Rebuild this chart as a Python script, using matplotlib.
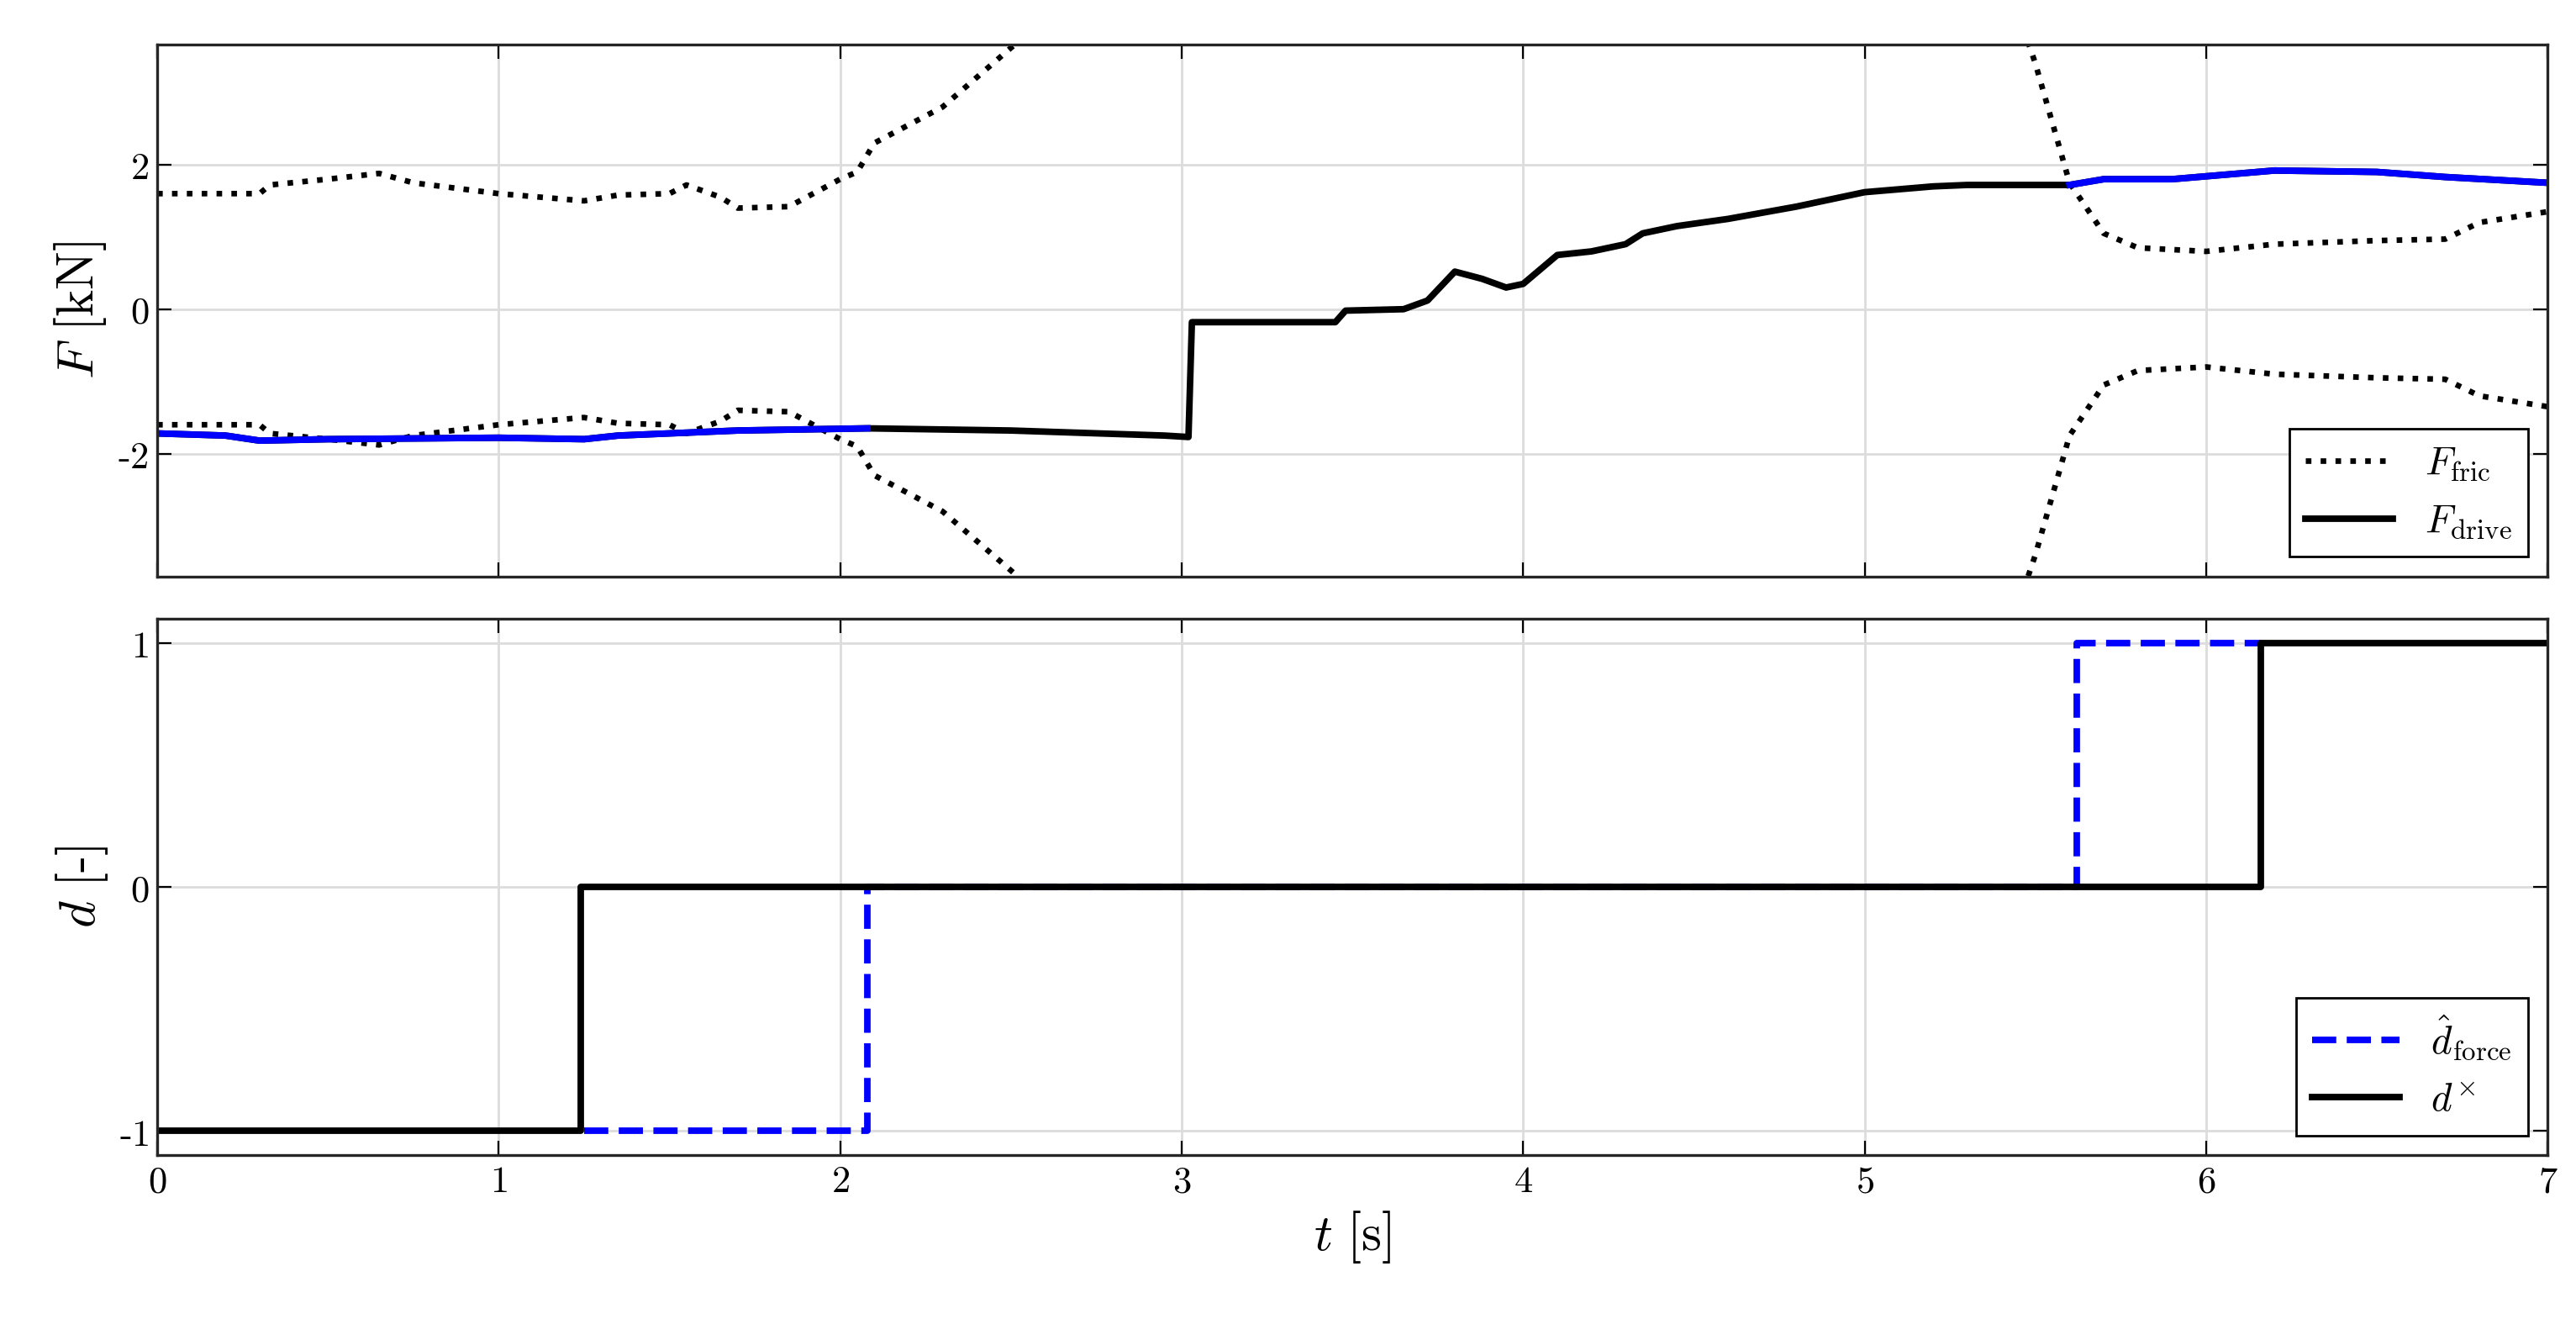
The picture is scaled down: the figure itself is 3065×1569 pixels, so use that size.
import matplotlib
matplotlib.use("Agg")
import matplotlib.pyplot as plt
import numpy as np

plt.rcParams['mathtext.fontset'] = 'cm'
plt.rcParams['font.family'] = 'serif'
plt.rcParams['font.serif'] = ['DejaVu Serif']

# friction bound (upper branch; lower branch is its mirror)
t_fric = [0, 0.3, 0.33, 0.5, 0.65, 0.75, 1.0, 1.25, 1.35, 1.5, 1.55, 1.65, 1.7, 1.85, 2.0, 2.05, 2.1, 2.3, 2.52, 2.8, 3.2, 4.0, 5.0, 5.35, 5.5, 5.6, 5.7, 5.8, 6.0, 6.2, 6.5, 6.7, 6.8, 7.0]
f_fric = [1.6, 1.6, 1.72, 1.8, 1.88, 1.75, 1.6, 1.5, 1.58, 1.6, 1.72, 1.55, 1.4, 1.42, 1.8, 1.9, 2.3, 2.8, 3.7, 5.0, 6.5, 8.0, 7.0, 5.5, 3.4, 1.75, 1.05, 0.85, 0.8, 0.9, 0.95, 0.97, 1.2, 1.35]

# drive force
t_drive = [0, 0.2, 0.3, 0.5, 1.0, 1.25, 1.35, 1.6, 1.7, 2.08, 2.5, 2.95, 3.02, 3.03, 3.45, 3.48, 3.65, 3.72, 3.8, 3.88, 3.95, 4.0, 4.05, 4.1, 4.2, 4.3, 4.35, 4.45, 4.6, 4.8, 5.0, 5.2, 5.3, 5.5, 5.6, 5.7, 5.9, 6.2, 6.5, 6.7, 7.0]
f_drive = [-1.72, -1.75, -1.82, -1.8, -1.78, -1.8, -1.75, -1.7, -1.68, -1.65, -1.68, -1.75, -1.77, -0.18, -0.18, -0.02, 0.0, 0.12, 0.52, 0.42, 0.3, 0.35, 0.55, 0.75, 0.8, 0.9, 1.05, 1.15, 1.25, 1.42, 1.62, 1.7, 1.72, 1.72, 1.72, 1.8, 1.8, 1.92, 1.9, 1.83, 1.75]
blue_segments = [(0, 2.08), (5.6, 7.0)]

# direction estimates
t_dhat = [1.25, 2.08, 2.08, 5.62, 5.62, 6.16]
d_hat = [-1, -1, 0, 0, 1, 1]
t_d = [0, 1.24, 1.24, 6.16, 6.16, 7.0]
d_x = [-1, -1, 0, 0, 1, 1]

xticks = [0, 1, 2, 3, 4, 5, 6, 7]
yticks_top = [-2, 0, 2]
yticks_bot = [-1, 0, 1]

fig = plt.figure(figsize=(15.325, 7.845), dpi=200)
ax1 = fig.add_axes([0.061, 0.563, 0.928, 0.403])
ax2 = fig.add_axes([0.061, 0.124, 0.928, 0.407])

tf = np.array(t_fric); ff = np.array(f_fric)
ax1.plot(tf, ff, ':', color='k', lw=2.4, label=r'$F_{\rm fric}$')
ax1.plot(tf, -ff, ':', color='k', lw=2.4)
td = np.array(t_drive); fd = np.array(f_drive)
ax1.plot(td, fd, '-', color='k', lw=2.8, label=r'$F_{\rm drive}$')
for a, b in blue_segments:
    m = (td >= a) & (td <= b)
    ax1.plot(td[m], fd[m], '-', color='#0000ff', lw=2.8)
ax1.set_ylim(-3.7, 3.66)
ax1.set_yticks(yticks_top)
ax1.set_yticklabels([f'${v}$'.replace('-', r'\text{-}') for v in yticks_top])
ax1.set_ylabel(r'$F\ [\mathrm{kN}]$', fontsize=22)
ax1.legend(loc='lower right', fontsize=17, fancybox=False, edgecolor='k', framealpha=1, handlelength=2.2)

ax2.plot(t_dhat, d_hat, '--', color='#0000ff', lw=2.8, label=r'$\hat{d}_{\rm force}$')
ax2.plot(t_d, d_x, '-', color='k', lw=2.8, label=r'$d^{\times}$')
ax2.set_ylim(-1.1, 1.1)
ax2.set_yticks(yticks_bot)
ax2.set_yticklabels([f'${v}$'.replace('-', r'\text{-}') for v in yticks_bot])
ax2.set_ylabel(r'$d\ [\text{-}]$', fontsize=22)
ax2.set_xlabel(r'$t\ [\mathrm{s}]$', fontsize=22)
ax2.legend(loc='lower right', fontsize=17, fancybox=False, edgecolor='k', framealpha=1, handlelength=2.2)

for ax in (ax1, ax2):
    ax.set_xlim(0, 7)
    ax.set_xticks(xticks)
    ax.grid(True, color='#dcdcdc', lw=1)
    ax.tick_params(direction='in', labelsize=16, length=6, top=True, right=True)
    for s in ax.spines.values():
        s.set_color('#262626'); s.set_linewidth(1.2)
ax1.set_xticklabels([])
ax2.set_xticklabels([f'${v}$' for v in xticks])

fig.savefig('out.png', dpi=200)
